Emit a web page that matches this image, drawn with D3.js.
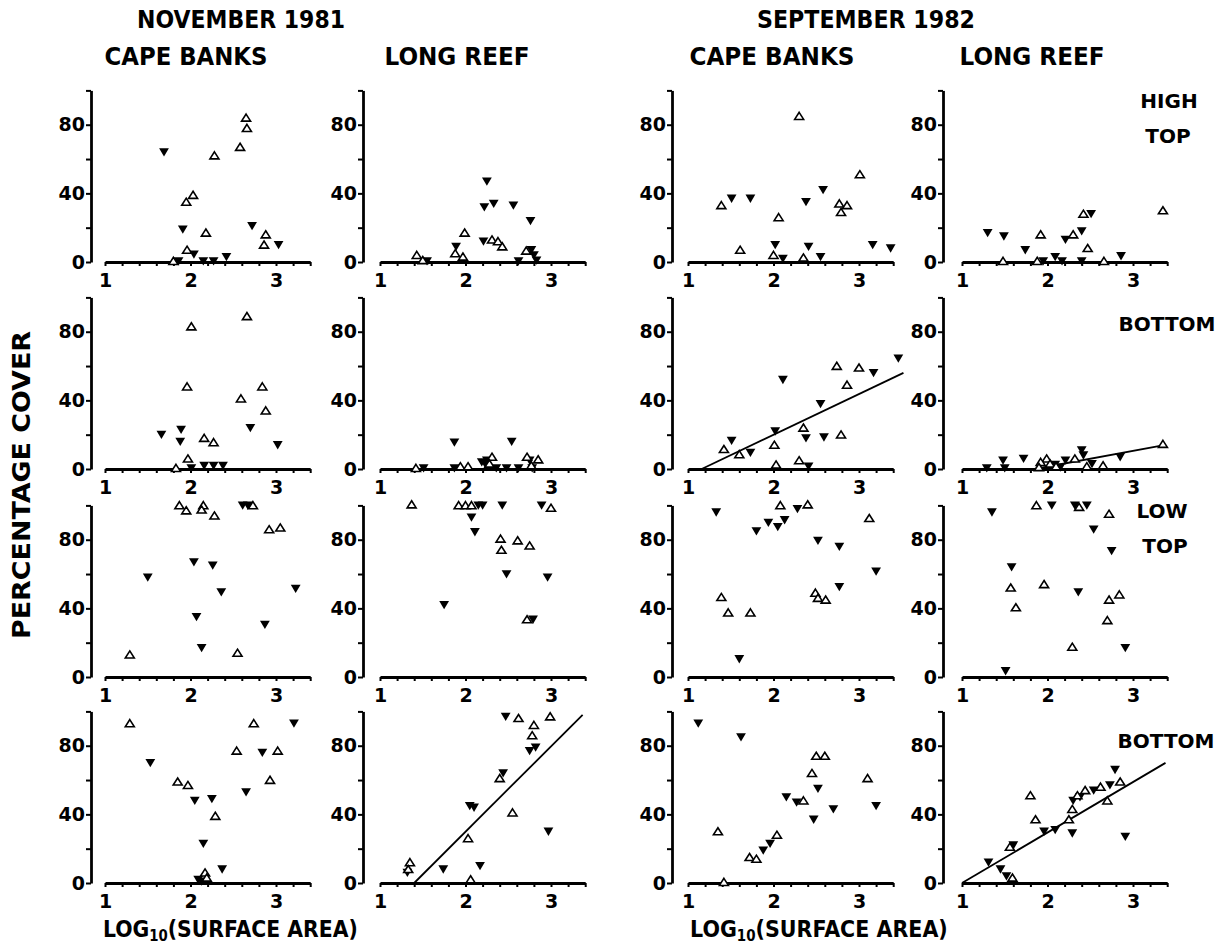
<!DOCTYPE html>
<html><head><meta charset="utf-8">
<script src="https://cdn.jsdelivr.net/npm/d3@7"></script>
<style>body{margin:0;background:#fff} svg{display:block}</style>
</head><body>
<svg id="c" width="1217" height="943"></svg>
<script>
// ---------- DATA ----------
const periods = ["NOVEMBER 1981", "SEPTEMBER 1982"];
const sites = ["CAPE BANKS", "LONG REEF", "CAPE BANKS", "LONG REEF"];
const rowLabels = [["HIGH", "TOP"], ["BOTTOM"], ["LOW", "TOP"], ["BOTTOM"]];
const yLabel = "PERCENTAGE COVER";
const xTickLabels = [1, 2, 3];
const yTickLabels = [0, 40, 80];

// [log10(surface area), % cover]; open = open up-triangles, filled = filled down-triangles
const r1c1Open = [[2.65,84],[2.66,78],[2.58,67],[2.28,62],[2.03,39],[1.95,35],[2.18,17],[2.88,16],[2.86,10],[1.96,7],[1.80,0.5]];
const r1c1Filled = [[1.69,64],[1.91,19],[2.72,21],[3.03,10],[2.04,4.5],[2.42,3],[1.86,0.5],[2.15,0.5],[2.27,0.5]];
const r1c2Open = [[1.99,17],[1.88,5],[1.97,3],[2.31,13],[2.38,12],[2.43,9],[2.71,6.5],[1.43,4],[1.50,1]];
const r1c2Filled = [[2.25,47],[2.22,32],[2.33,34],[2.56,33],[2.76,24],[1.89,9],[2.21,12],[2.77,7],[2.80,4],[2.83,1],[2.62,0.5],[1.55,0.5]];
const r1c3Open = [[2.30,85],[3.01,51],[1.39,33],[2.77,34],[2.86,33],[2.79,29],[2.06,26],[1.61,7],[2.00,4],[2.35,2.5]];
const r1c3Filled = [[1.51,37],[1.73,37],[2.58,42],[2.38,35],[2.02,10],[2.41,9],[2.11,2],[2.55,3],[3.16,10],[3.37,8]];
const r1c4Open = [[2.42,28],[1.92,16],[2.30,16],[2.47,8],[3.35,30],[1.48,0.5],[1.88,0.5],[2.66,0.5]];
const r1c4Filled = [[1.30,17],[1.49,15],[1.74,7],[2.21,13],[2.40,18],[2.51,28],[2.09,3],[2.86,3.5],[1.95,0.5],[2.17,0.5],[2.40,0.5]];

const r2c1Open = [[2.66,89],[2.01,83],[1.96,48],[2.84,48],[2.59,41],[2.88,34],[2.16,18],[2.27,15.5],[1.97,6],[1.83,0.5]];
const r2c1Filled = [[1.66,20],[1.89,23],[1.88,16],[2.70,24],[3.02,14],[2.16,2],[2.27,2],[2.38,2],[2.01,0.5]];
const r2c2Open = [[2.31,7],[2.72,7],[2.85,5.5],[1.94,1.5],[2.03,1.5],[1.42,0.5],[2.77,2],[2.28,3]];
const r2c2Filled = [[1.87,15.5],[2.54,16],[2.19,4],[2.23,3],[2.25,5],[2.75,5],[1.51,0.5],[1.87,0.5],[2.36,0.5],[2.62,0.5],[2.78,0.5],[2.48,0.5]];
const r2c3Open = [[2.74,60],[3.00,59],[2.86,49],[2.35,24],[2.79,20],[2.01,14],[1.42,11.5],[1.60,8.5],[2.30,5],[2.03,2.5]];
const r2c3Filled = [[3.46,64.5],[3.17,56],[2.11,52],[2.55,38],[2.02,22],[2.38,18],[2.59,18.5],[1.51,16.5],[1.73,9.5],[2.41,1.5]];
const r2c4Open = [[3.35,14.5],[2.32,6],[1.99,6],[1.92,4],[2.03,3],[2.46,1.5],[2.65,2],[1.90,1],[2.10,1.5]];
const r2c4Filled = [[2.40,11],[2.42,8],[2.85,7],[2.21,5],[1.72,6],[1.48,5],[1.29,0.5],[2.09,2.5],[2.52,3],[1.50,0.5],[2.15,1]];

const r3c1Open = [[1.87,100],[1.95,97],[2.15,100],[2.13,97.5],[2.28,94],[2.73,100],[2.92,86],[3.05,87],[1.29,13],[2.55,14]];
const r3c1Filled = [[2.61,100],[2.67,100],[2.04,67],[2.26,65],[1.50,58],[2.36,49.5],[3.23,51.5],[2.07,35],[2.87,30.5],[2.13,17]];
const r3c2Open = [[1.37,100.5],[1.92,100],[2.00,100],[2.07,100],[2.41,80.5],[2.42,74],[2.61,79.5],[2.75,76.5],[3.00,98.5],[2.72,33.5]];
const r3c2Filled = [[2.15,100],[2.20,100],[2.43,100],[2.89,100],[2.07,93],[2.11,84.5],[2.48,60],[2.96,58],[1.75,42],[2.79,33.5]];
const r3c3Open = [[2.08,100],[2.40,100.5],[3.12,92.5],[1.39,46.5],[1.47,37.5],[1.73,37.5],[2.49,49],[2.52,46],[2.61,45]];
const r3c3Filled = [[1.33,96],[1.80,85],[1.94,90],[2.05,87.5],[2.13,91.5],[2.28,98],[2.52,79.5],[2.77,76],[2.77,52.5],[3.20,61.5],[1.60,10.5]];
const r3c4Open = [[1.87,100],[2.37,99],[2.72,95],[1.57,52],[1.63,40.5],[1.96,54],[2.72,45],[2.84,48],[2.70,33],[2.29,17.5]];
const r3c4Filled = [[1.35,96],[1.58,64],[1.51,3.5],[2.05,100],[2.32,100],[2.46,100],[2.54,86],[2.75,73.5],[2.36,49.5],[2.91,17]];

const r4c1Open = [[1.29,93],[1.85,59],[1.97,57],[2.29,39],[2.17,6],[2.19,3],[2.54,77],[2.74,93],[2.93,60],[3.02,77]];
const r4c1Filled = [[1.53,70],[2.05,48],[2.25,49],[2.15,23],[2.37,8],[2.09,2],[2.13,1],[2.65,53],[2.84,76],[3.21,93]];
const r4c2Open = [[1.35,12],[1.33,8],[2.03,26],[2.06,2],[2.40,61],[2.55,41],[2.62,96],[2.78,86],[2.80,92],[2.99,97]];
const r4c2Filled = [[1.32,6],[1.74,8],[2.05,45],[2.10,44],[2.17,10],[2.44,64],[2.47,97],[2.75,77],[2.82,79],[2.97,30]];
const r4c3Open = [[1.35,30],[1.42,0.5],[1.72,15],[1.80,14],[2.04,28],[2.35,48],[2.45,64],[2.50,74],[2.60,74],[3.10,61]];
const r4c3Filled = [[1.12,93],[1.62,85],[1.88,19],[1.96,23],[2.15,50],[2.27,47],[2.47,37],[2.52,55],[2.70,43],[3.20,45]];
const r4c4Open = [[1.56,21],[1.59,3],[1.80,51],[1.86,37],[2.25,37],[2.29,43],[2.35,51],[2.44,54],[2.62,56],[2.70,48],[2.85,59]];
const r4c4Filled = [[1.31,12],[1.45,8],[1.52,4],[1.60,22],[1.96,30],[2.09,31],[2.30,48],[2.38,50],[2.54,54],[2.73,57],[2.79,66],[2.91,27],[2.29,29]];

// fitted regression lines: endpoints [x, y]
const r2c3Fit = [[1.16,0],[3.52,56]];
const r2c4Fit = [[1.85,0],[3.38,14]];
const r4c2Fit = [[1.40,0],[3.37,98]];
const r4c4Fit = [[1.00,0],[3.38,70]];

const panels = [
  [r1c1Open, r1c1Filled, null], [r1c2Open, r1c2Filled, null], [r1c3Open, r1c3Filled, null], [r1c4Open, r1c4Filled, null],
  [r2c1Open, r2c1Filled, null], [r2c2Open, r2c2Filled, null], [r2c3Open, r2c3Filled, r2c3Fit], [r2c4Open, r2c4Filled, r2c4Fit],
  [r3c1Open, r3c1Filled, null], [r3c2Open, r3c2Filled, null], [r3c3Open, r3c3Filled, null], [r3c4Open, r3c4Filled, null],
  [r4c1Open, r4c1Filled, null], [r4c2Open, r4c2Filled, r4c2Fit], [r4c3Open, r4c3Filled, null], [r4c4Open, r4c4Filled, r4c4Fit]
];

// ---------- LAYOUT ----------
const colX1 = [105, 380, 688, 962];   // pixel of x = 1
const colAxis = [91, 363, 672, 943];  // y-axis line
const rowY0 = [262, 469, 677, 883];   // pixel of y = 0
const unitX = 85.5, plotH = 171.6;
const FONT = "'DejaVu Sans', sans-serif";

const svg = d3.select("#c");

const upTri = "M0,-3.8L4.5,3.3L-4.5,3.3Z";
const downTri = "M-4.9,-3.9L4.9,-3.9L0,4.4Z";

panels.forEach((p, i) => {
  const r = Math.floor(i / 4), c = i % 4;
  const x = d3.scaleLinear().domain([1, 3.4]).range([colX1[c], colX1[c] + 2.4 * unitX]);
  const y = d3.scaleLinear().domain([0, 100]).range([rowY0[r], rowY0[r] - plotH]);
  const g = svg.append("g");

  // x axis
  const xt = d3.range(10, 35, 2).map(v => v / 10);
  const xa = g.append("g").attr("transform", `translate(0,${rowY0[r]})`)
    .call(d3.axisBottom(x).tickValues(xt).tickSize(4).tickSizeOuter(0).tickPadding(8)
      .tickFormat(d => xTickLabels.includes(Math.round(d * 10) / 10) ? d3.format("d")(d) : ""));
  xa.select(".domain").attr("stroke-width", 2.8);
  xa.selectAll(".tick line").attr("stroke-width", 2);
  xa.selectAll("text").attr("font-family", FONT).attr("font-size", 19).attr("font-weight", "bold").attr("fill", "#000");

  // y axis
  const ya = g.append("g").attr("transform", `translate(${colAxis[c]},0)`)
    .call(d3.axisLeft(y).tickValues([0, 20, 40, 60, 80, 100]).tickSize(5).tickSizeOuter(0).tickPadding(1)
      .tickFormat(d => yTickLabels.includes(d) ? d : ""));
  ya.select(".domain").attr("stroke-width", 2.8);
  ya.selectAll(".tick line").attr("stroke-width", 2);
  ya.selectAll("text").attr("font-family", FONT).attr("font-size", 19).attr("font-weight", "bold").attr("fill", "#000");

  // fit line
  if (p[2]) {
    g.append("line")
      .attr("x1", x(p[2][0][0])).attr("y1", y(p[2][0][1]))
      .attr("x2", x(p[2][1][0])).attr("y2", y(p[2][1][1]))
      .attr("stroke", "#000").attr("stroke-width", 1.8);
  }
  // filled down triangles
  g.selectAll("path.f").data(p[1]).join("path").attr("class", "f")
    .attr("d", downTri).attr("fill", "#000")
    .attr("transform", d => `translate(${x(d[0])},${y(d[1])})`);
  // open up triangles
  g.selectAll("path.o").data(p[0]).join("path").attr("class", "o")
    .attr("d", upTri).attr("fill", "#fff").attr("stroke", "#000").attr("stroke-width", 1.6)
    .attr("transform", d => `translate(${x(d[0])},${y(d[1])})`);
});

// ---------- TEXT ----------
const T = (x, y, s, size, len) => {
  const t = svg.append("text").attr("x", x).attr("y", y).attr("text-anchor", "middle")
    .attr("font-family", FONT).attr("font-weight", "bold").attr("font-size", size).text(s);
  if (len) t.attr("textLength", len).attr("lengthAdjust", "spacingAndGlyphs");
  return t;
};
T(241, 28, periods[0], 24, 208);
T(866, 28, periods[1], 24, 218);
const siteCx = [186, 457, 772, 1032];
const siteW = [163, 145, 165, 145];
sites.forEach((s, i) => T(siteCx[i], 65, s, 24, siteW[i]));

const rowLabelPos = [[[1169,108],[1168,143]], [[1167,331]], [[1162,518],[1165,553]], [[1166,748]]];
rowLabels.forEach((ls, r) => ls.forEach((s, k) => T(rowLabelPos[r][k][0], rowLabelPos[r][k][1], s, 20)));

svg.append("text").attr("transform", "translate(30,485) rotate(-90)").attr("text-anchor", "middle")
  .attr("font-family", FONT).attr("font-weight", "bold").attr("font-size", 25)
  .attr("textLength", 308).attr("lengthAdjust", "spacingAndGlyphs").text(yLabel);

[[103, 358], [690, 948]].forEach(([a, b]) => {
  const t = svg.append("text").attr("x", a).attr("y", 937)
    .attr("font-family", FONT).attr("font-weight", "bold").attr("font-size", 23);
  t.append("tspan").text("LOG");
  t.append("tspan").attr("font-size", 15).attr("dy", 4).text("10");
  t.append("tspan").attr("dy", -4).text("(SURFACE AREA)");
  const w = t.node().getComputedTextLength();
  t.attr("transform", `translate(${a},0) scale(${(b - a) / w},1) translate(${-a},0)`);
});
</script>
</body></html>
